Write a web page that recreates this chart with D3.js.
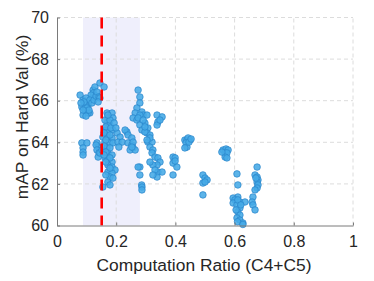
<!DOCTYPE html>
<html><head><meta charset="utf-8">
<script src="https://cdn.jsdelivr.net/npm/d3@7"></script>
<style>body{margin:0;background:#fff}svg{display:block}text{font-family:"Liberation Sans",Arial,sans-serif;fill:#262626}</style>
</head><body>
<script>
const xTicks=[0,0.2,0.4,0.6,0.8,1];
const yTicks=[60,62,64,66,68,70];
const xTickLabels=["0","0.2","0.4","0.6","0.8","1"];
const yTickLabels=["60","62","64","66","68","70"];
const shadeRange=[0.088,0.28];
const markerX=0.151;
const ratio=[
0.078,0.088,0.084,0.095,0.088,0.111,0.105,0.118,0.122,0.128,0.122,0.115,0.098,0.105,0.095,0.105,0.098,0.111,0.101,0.091,0.108,0.118,0.125,0.132,0.135,0.142,0.145,0.159,0.145,0.139,0.081,0.088,
0.084,0.101,0.088,0.088,0.088,
0.135,0.139,0.132,0.135,0.142,0.139,0.145,
0.169,0.186,0.172,0.189,0.169,0.179,0.162,0.172,0.189,0.155,0.172,0.186,0.162,0.179,0.189,0.169,0.152,0.172,0.186,0.162,0.172,0.186,0.172,0.186,0.196,0.172,0.186,0.179,0.172,0.179,0.155,0.162,0.179,0.165,0.182,0.159,0.179,0.165,0.159,0.179,0.165,0.159,0.179,0.165,0.179,0.165,0.189,0.172,0.193,
0.203,0.213,0.206,0.220,0.236,0.240,0.253,0.257,0.247,0.199,0.209,0.230,0.240,0.280,0.286,
0.274,0.280,0.280,0.270,0.264,0.257,0.270,0.287,0.291,0.304,0.297,0.280,0.287,0.307,0.304,0.314,0.297,0.307,0.321,0.314,0.324,0.321,0.331,0.341,0.348,0.338,0.324,0.341,0.355,0.338,0.314,0.331,0.324,0.274,0.280,0.287,0.287,0.253,0.257,0.264,0.253,0.338,0.355,0.341,0.338,0.348,0.280,0.274,0.291,0.297,0.314,0.304,
0.392,0.399,0.392,0.405,0.392,0.399,
0.432,0.439,0.449,0.443,0.436,0.439,0.432,0.446,0.453,
0.493,0.500,0.507,0.493,0.500,0.493,
0.561,0.571,0.578,0.568,0.574,0.568,0.574,0.557,
0.608,0.611,
0.611,0.595,0.601,0.618,0.635,0.595,0.608,0.618,0.611,0.618,0.608,0.618,0.628,0.611,0.605,0.621,0.610,0.628,
0.676,0.669,0.676,0.679,0.676,0.679,0.676,0.669,0.662,0.659,0.662,0.669,0.672
];
const mAP=[
66.27,66.03,65.70,65.55,65.31,65.41,65.89,66.13,66.51,66.66,66.37,66.27,66.13,65.79,65.79,65.41,65.26,66.03,65.65,65.94,65.55,65.89,66.03,66.22,66.42,66.18,66.85,66.66,66.13,65.94,65.89,65.55,
63.97,63.97,63.73,63.53,63.39,
63.97,63.77,63.87,63.63,63.49,63.29,63.49,
65.41,65.41,65.17,65.17,64.93,64.83,64.59,64.50,64.59,64.25,64.25,64.21,64.01,63.97,63.97,63.73,63.63,63.49,63.39,63.25,63.15,63.05,62.91,62.81,62.67,62.57,62.52,62.33,62.09,61.95,61.85,65.07,65.07,64.74,64.69,64.45,64.35,64.11,63.82,63.73,63.53,63.39,63.25,63.05,62.76,62.43,62.28,65.31,64.93,
64.45,64.25,64.01,64.01,64.50,63.97,63.87,63.73,63.63,64.69,63.77,64.59,64.35,62.81,61.95,
66.51,66.18,65.89,65.65,65.41,65.17,65.07,65.46,65.31,65.31,64.93,64.83,64.59,64.69,64.45,64.35,64.50,64.01,64.01,63.77,63.63,63.49,63.29,63.25,63.05,62.91,62.91,62.57,62.57,62.33,63.05,62.67,62.43,62.81,62.43,61.85,61.71,64.21,64.01,63.63,63.77,65.31,65.22,64.98,64.83,65.07,65.31,65.17,65.07,64.74,64.21,64.11,
63.29,63.25,63.00,62.81,62.43,63.10,
64.11,64.11,64.11,64.21,63.97,63.77,63.73,64.01,64.16,
62.43,62.28,62.19,62.04,62.09,61.47,
63.63,63.68,63.63,63.49,63.49,63.29,63.25,63.53,
62.48,61.95,
61.37,61.32,61.23,61.13,61.13,61.08,60.99,60.84,60.65,60.50,60.36,60.26,60.12,61.23,60.75,60.99,60.18,60.05,
62.81,62.43,62.33,62.19,62.09,61.95,61.80,61.71,61.37,61.13,60.99,60.75,62.28
];

const W=374,H=281;
const svg=d3.select("body").append("svg").attr("width",W).attr("height",H);
const x=d3.scaleLinear().domain([0,1]).range([57,353]);
const y=d3.scaleLinear().domain([60,70]).range([225.5,17.5]);

svg.append("rect").attr("x",x(shadeRange[0])).attr("y",y(70)).attr("width",x(shadeRange[1])-x(shadeRange[0])).attr("height",y(60)-y(70)).attr("fill","#efeffc");

const grid=svg.append("g").attr("stroke","#dcdcdc").attr("stroke-width",1).attr("stroke-dasharray","4,3");
xTicks.slice(1).forEach(t=>grid.append("line").attr("x1",x(t)).attr("x2",x(t)).attr("y1",y(60)).attr("y2",y(70)));
yTicks.slice(1).forEach(t=>grid.append("line").attr("x1",x(0)).attr("x2",x(1)).attr("y1",y(t)).attr("y2",y(t)));

const pts=ratio.map((r,i)=>({r,m:mAP[i]}));
svg.append("g").selectAll("circle").data(pts).join("circle")
 .attr("cx",d=>x(d.r)).attr("cy",d=>y(d.m)).attr("r",3.3)
 .attr("fill","rgb(70,170,230)").attr("fill-opacity",0.88)
 .attr("stroke","rgb(40,132,202)").attr("stroke-width",0.7);

svg.append("line").attr("x1",x(markerX)).attr("x2",x(markerX)).attr("y1",y(70)).attr("y2",y(60))
 .attr("stroke","#ff0000").attr("stroke-width",2.6).attr("stroke-dasharray","11,7");

const xa=d3.axisBottom(x).tickValues(xTicks).tickFormat((d,i)=>xTickLabels[i]).tickSizeInner(-3).tickSizeOuter(0).tickPadding(10);
const gx=svg.append("g").attr("transform",`translate(0,${y(60)})`).call(xa);
const ya=d3.axisLeft(y).tickValues(yTicks).tickFormat((d,i)=>yTickLabels[i]).tickSizeInner(-3).tickSizeOuter(0).tickPadding(8);
const gy=svg.append("g").attr("transform",`translate(${x(0)},0)`).call(ya);
[gx,gy].forEach(g=>{g.select(".domain").attr("stroke","#7a7a7a");g.selectAll(".tick line").attr("stroke","#7a7a7a");g.selectAll("text").attr("font-size",16).attr("fill","#262626").attr("font-family","Liberation Sans, Arial, sans-serif");});

svg.append("text").attr("x",204).attr("y",271).attr("text-anchor","middle").attr("font-size",17.4).text("Computation Ratio (C4+C5)");
svg.append("text").attr("transform",`translate(22,117) rotate(-90)`).attr("dy","0.35em").attr("text-anchor","middle").attr("font-size",17.4).text("mAP on Hard Val (%)");
</script>
</body></html>
